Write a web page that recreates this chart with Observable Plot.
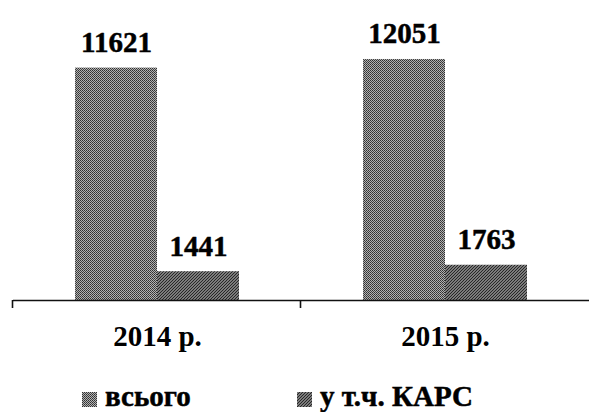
<!DOCTYPE html>
<html>
<head>
<meta charset="utf-8">
<script src="https://cdn.jsdelivr.net/npm/d3@7"></script>
<script src="https://cdn.jsdelivr.net/npm/@observablehq/plot@0.6"></script>
<style>
  html, body { margin: 0; padding: 0; background: #fff; }
  #chart svg { display: block; }
  #legend { position: relative; height: 52px; font-family: "Liberation Serif", "Times New Roman", serif; font-weight: bold; font-size: 29px; line-height: 29px; -webkit-text-stroke: 0.5px #000; }
  .item { position: absolute; top: 22px; display: flex; align-items: center; }
  .item svg { display: block; margin-right: 8px; margin-top: 5px; }
</style>
</head>
<body>
<div id="chart"></div>
<div id="legend"></div>
<script>
const years = ["2014 р.", "2015 р."];
const series = ["всього", "у т.ч. КАРС"];
const totals = [11621, 12051];
const kars = [1441, 1763];

const patterns = ["pat-total", "pat-kars"];

const rows = [];
years.forEach((yr, i) => {
  rows.push({year: yr, series: series[0], value: totals[i]});
  rows.push({year: yr, series: series[1], value: kars[i]});
});

const plot = Plot.plot({
  width: 589,
  height: 360,
  marginLeft: 13,
  marginRight: 0,
  marginTop: 20,
  marginBottom: 60,
  style: {fontFamily: "'Liberation Serif', 'Times New Roman', serif", fontWeight: "bold", background: "#fff", color: "#000"},
  fx: {domain: years, padding: 0, label: null},
  x: {domain: series, axis: null, paddingInner: 0, paddingOuter: 0.735},
  y: {domain: [0, 14000], axis: null},
  color: {domain: series, range: patterns.map(p => `url(#${p})`)},
  marks: [
    Plot.barY(rows, {fx: "year", x: "series", y: "value", fill: "series"}),
    Plot.ruleY([0], {stroke: "#111", strokeWidth: 1.6}),
    Plot.text(rows, {fx: "year", x: "series", y: "value", text: d => String(d.value), lineAnchor: "bottom", dy: -16, fontSize: 29, fontWeight: "bold", fill: "#000", stroke: "#000", strokeWidth: 0.5}),
    Plot.axisFx({anchor: "bottom", tickSize: 0, tickPadding: 25, fontSize: 29, fontWeight: "bold", label: null, fill: "#000", stroke: "#000", strokeWidth: 0.5})
  ]
});

// patterns
const svg = d3.select(plot);
const defs = svg.insert("defs", ":first-child");
const p1 = defs.append("pattern").attr("id", "pat-total").attr("patternUnits", "userSpaceOnUse").attr("width", 2).attr("height", 2);
p1.append("rect").attr("width", 2).attr("height", 2).attr("fill", "#b2b2b2");
p1.append("rect").attr("width", 1).attr("height", 1).attr("fill", "#303030").attr("shape-rendering", "crispEdges");
p1.append("rect").attr("x", 1).attr("y", 1).attr("width", 1).attr("height", 1).attr("fill", "#444").attr("shape-rendering", "crispEdges");
const p2 = defs.append("pattern").attr("id", "pat-kars").attr("patternUnits", "userSpaceOnUse").attr("width", 3).attr("height", 3);
p2.append("rect").attr("width", 3).attr("height", 3).attr("fill", "#a4a4a4");
p2.append("path").attr("d", "M-1,1 L1,-1 M0,3 L3,0 M2,4 L4,2").attr("stroke", "#222").attr("stroke-width", 1.2);

// tick marks at category boundaries, positioned from the fx and y scales
const fx = plot.scale("fx");
const ys = plot.scale("y");
const y0 = ys.apply(0);
years.forEach(yr => {
  const x = Math.round(fx.apply(yr)) - 0.5;
  svg.append("line").attr("x1", x).attr("x2", x).attr("y1", y0).attr("y2", y0 + 8)
    .attr("stroke", "#111").attr("stroke-width", 1.6);
});

document.getElementById("chart").appendChild(plot);

// legend
const legend = document.getElementById("legend");
const lefts = [82, 297];
series.forEach((s, i) => {
  const item = document.createElement("div");
  item.className = "item";
  item.style.left = lefts[i] + "px";
  item.innerHTML = `<svg width="15" height="15"><rect width="15" height="15" fill="url(#${patterns[i]})"/></svg><span>${s}</span>`;
  legend.appendChild(item);
});
</script>
</body>
</html>
